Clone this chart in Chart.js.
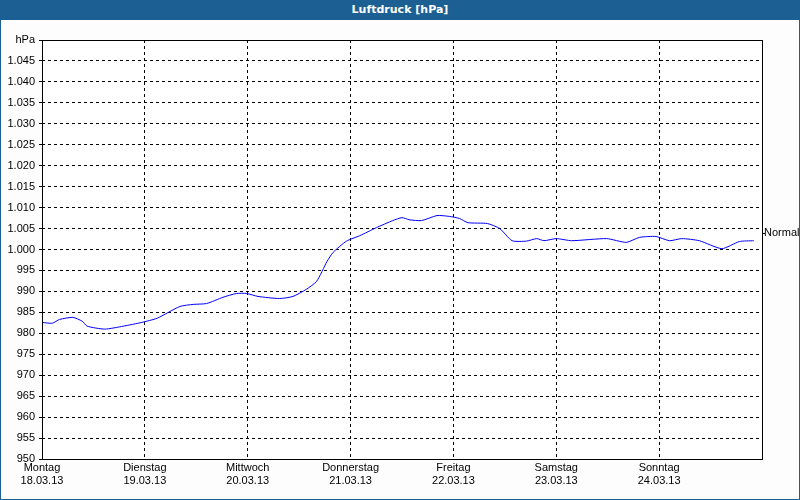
<!DOCTYPE html>
<html><head><meta charset="utf-8">
<script src="https://cdn.jsdelivr.net/npm/chart.js@4"></script>
<style>
html,body{margin:0;padding:0;background:#fff;}
#wrap{width:800px;height:500px;position:relative;box-sizing:border-box;border:1px solid #1c5f93;border-top:none;background:#fcfdfc;}
#title{height:20px;background:#1c5f93;color:#fff;font:bold 11px "DejaVu Sans",sans-serif;text-align:center;line-height:20px;}
canvas{display:block;}
</style></head><body>
<div id="wrap"><div id="title">Luftdruck [hPa]</div>
<div style="width:798px;height:479px"><canvas id="c"></canvas></div></div>
<script>
const dayNames=['Montag','Dienstag','Mittwoch','Donnerstag','Freitag','Samstag','Sonntag'];
const dates=['18.03.13','19.03.13','20.03.13','21.03.13','22.03.13','23.03.13','24.03.13'];
const dayPos=[0,0.10,0.17,0.30,0.39,0.44,0.61,0.79,0.97,1.12,1.34,1.47,1.60,1.76,1.89,1.99,2.10,2.31,2.44,2.57,2.67,2.77,2.83,2.96,3.09,3.25,3.41,3.50,3.57,3.69,3.84,3.96,4.06,4.14,4.33,4.45,4.57,4.71,4.81,4.88,5.00,5.15,5.49,5.68,5.81,5.97,6.10,6.22,6.39,6.61,6.78,6.92];
const pressure=[982.6,982.4,983.3,983.8,982.9,981.7,981.0,981.7,982.6,983.6,986.4,986.9,987.1,988.6,989.5,989.5,988.8,988.3,988.8,990.5,992.4,997.1,999.3,1002.0,1003.3,1005.2,1006.9,1007.6,1007.1,1006.9,1008.1,1007.9,1007.4,1006.4,1006.2,1005.0,1002.1,1002.0,1002.6,1002.1,1002.6,1002.1,1002.6,1001.7,1002.9,1003.1,1002.1,1002.6,1002.1,1000.2,1001.9,1002.1];
const normalValue=1004;
const font={family:'"Liberation Sans",sans-serif',size:11};
const frame={id:'frame',afterDraw(ch){const a=ch.chartArea,c=ch.ctx,y=ch.scales.y.getPixelForValue(normalValue);
c.save();c.strokeStyle='#000';c.lineWidth=1;c.setLineDash([]);
c.strokeRect(Math.round(a.left)+0.5,Math.round(a.top)+0.5,Math.round(a.right-a.left),Math.round(a.bottom-a.top));
c.beginPath();c.moveTo(a.right,Math.round(y)+0.5);c.lineTo(a.right+3,Math.round(y)+0.5);c.stroke();
c.fillStyle='#000';c.font='11px "Liberation Sans",sans-serif';c.textBaseline='middle';c.fillText('Normal',a.right+2,y);c.restore();}};
const bg={id:'bg',beforeDraw(ch){const a=ch.chartArea,c=ch.ctx;c.save();c.fillStyle='#fff';c.fillRect(a.left,a.top,a.right-a.left,a.bottom-a.top);c.restore();}};
new Chart(document.getElementById('c'),{type:'line',
data:{datasets:[{data:dayPos.map((d,i)=>({x:d,y:pressure[i]})),borderColor:'#0000ff',borderWidth:1,pointRadius:0,tension:0.2,fill:false}]},
options:{responsive:true,maintainAspectRatio:false,animation:false,
layout:{padding:{top:20,right:37,left:0,bottom:0}},
plugins:{legend:{display:false},tooltip:{enabled:false}},
scales:{
x:{type:'linear',min:0,max:7,afterFit:s=>{s.height=40;},
ticks:{stepSize:1,color:'#000',font,maxRotation:0,padding:2,callback:v=>v<7?[dayNames[v],dates[v]]:''},
grid:{color:'#000',lineWidth:1,drawTicks:false}, border:{display:false,dash:[3,3]}},
y:{min:950,max:1050,afterFit:s=>{s.width=41;},
ticks:{stepSize:5,color:'#000',font,padding:4,callback:v=>v==1050?'hPa':(v>=1000?'1.'+String(v-1000).padStart(3,'0'):String(v))},
grid:{color:'#000',lineWidth:1,drawTicks:true,tickLength:3},border:{display:false,dash:[3,3]}}}},
plugins:[bg,frame]});
</script></body></html>
